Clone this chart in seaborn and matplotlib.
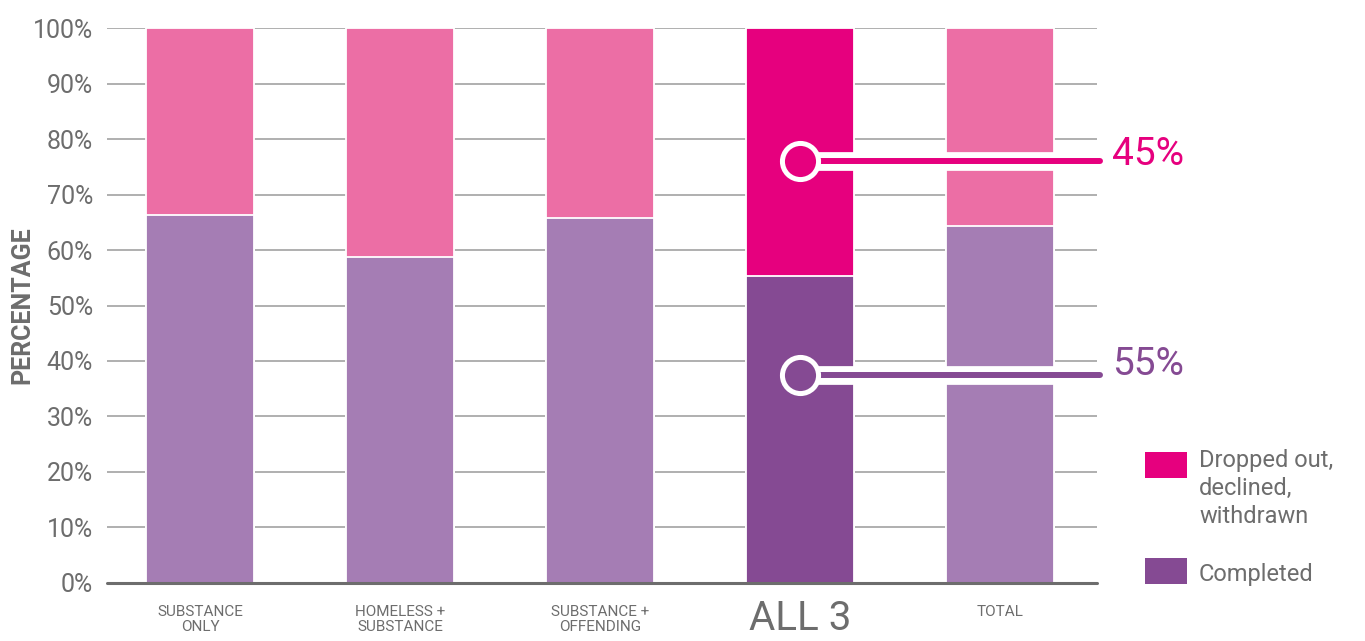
import pandas as pd
import matplotlib.pyplot as plt
import matplotlib.patheffects as pe
import matplotlib.transforms as mtransforms
from matplotlib.patches import Rectangle
import seaborn as sns

# Data
groups = ["SUBSTANCE\nONLY", "HOMELESS +\nSUBSTANCE", "SUBSTANCE +\nOFFENDING", "ALL 3", "TOTAL"]
completed = [66.3, 58.8, 65.8, 55.3, 64.4]
dropped = [100 - c for c in completed]
highlight_completed = 55
highlight_dropped = 45

# Colours
PINK = "#EC6EA5"
PURPLE = "#A57DB4"
PINK_DARK = "#E6007E"
PURPLE_DARK = "#854A93"
GREY_TEXT = "#6d6d6d"

sns.set_style("white")
plt.rcParams["font.family"] = ["Roboto", "DejaVu Sans"]

df = pd.DataFrame({"group": groups, "completed": completed, "dropped": dropped})
df["total"] = df["completed"] + df["dropped"]

top_colors = [PINK, PINK, PINK, PINK_DARK, PINK]
bottom_colors = [PURPLE, PURPLE, PURPLE, PURPLE_DARK, PURPLE]

fig = plt.figure(figsize=(13.65, 6.41), dpi=100)
ax = fig.add_axes([0.0784, 0.0905, 0.7253, 0.8658])

# --- stacked bars: full height first, completed part on top ---
sns.barplot(data=df, x="group", y="total", hue="group", palette=top_colors,
            saturation=1, width=0.54, edgecolor="white", linewidth=1.3, errorbar=None,
            legend=False, ax=ax, zorder=2)
sns.barplot(data=df, x="group", y="completed", hue="group", palette=bottom_colors,
            saturation=1, width=0.54, edgecolor="white", linewidth=1.3, errorbar=None,
            legend=False, ax=ax, zorder=2)

ax.set_xlim(-0.465, 4.485)
ax.set_ylim(0, 100)
ax.set_yticks(range(0, 101, 10))
ax.set_yticklabels([f"{v}%" for v in range(0, 101, 10)], fontsize=18, color=GREY_TEXT)
ax.yaxis.grid(True, color="#9a9a9a", linewidth=1.1)
ax.set_axisbelow(True)
ax.tick_params(axis="both", length=0)
ax.tick_params(axis="y", pad=10)
ax.tick_params(axis="x", pad=16)
sns.despine(ax=ax, left=True, bottom=True)
ax.axhline(0, color=GREY_TEXT, linewidth=2.2, zorder=5, clip_on=False)

# small tick labels; the highlighted group gets its own big label
idx = groups.index("ALL 3")
ax.set_xticks(range(len(groups)))
ax.set_xticklabels([g if i != idx else "" for i, g in enumerate(groups)],
                   fontsize=11, color=GREY_TEXT, linespacing=1.1)
big = mtransforms.blended_transform_factory(ax.transData, fig.transFigure)
ax.text(idx, 0.004, groups[idx], transform=big, fontsize=29, color=GREY_TEXT,
        ha="center", va="bottom", clip_on=False)
ax.set_xlabel("")
ax.set_ylabel("PERCENTAGE", fontsize=18, fontweight="bold", color=GREY_TEXT, labelpad=-1)

# --- callouts on the ALL 3 bar ---
callouts = [(76.0, PINK_DARK, f"{highlight_dropped}%", 77.2),
            (37.5, PURPLE_DARK, f"{highlight_completed}%", 39.4)]
for y, col, label, ty in callouts:
    ax.plot([idx, 4.5], [y, y], color=col, linewidth=4.3, solid_capstyle="round",
            clip_on=False, zorder=6,
            path_effects=[pe.Stroke(linewidth=13.5, foreground="white", capstyle="butt"), pe.Normal()])
    ax.plot([idx], [y], marker="o", markersize=26, markerfacecolor=col,
            markeredgecolor="white", markeredgewidth=3.6, clip_on=False, zorder=7)
    ax.text(4.56, ty, label, fontsize=28, color=col, va="center", ha="left", clip_on=False)

# --- legend drawn by hand ---
fig.add_artist(Rectangle((0.8388, 0.2543), 0.0308, 0.0406, transform=fig.transFigure,
                         facecolor=PINK_DARK, edgecolor="none"))
fig.add_artist(Rectangle((0.8388, 0.0889), 0.0308, 0.0406, transform=fig.transFigure,
                         facecolor=PURPLE_DARK, edgecolor="none"))
fig.text(0.8784, 0.2990, "Dropped out,\ndeclined,\nwithdrawn", fontsize=17, color=GREY_TEXT,
         va="top", ha="left", linespacing=1.27)
fig.text(0.8784, 0.1040, "Completed", fontsize=17, color=GREY_TEXT, va="center", ha="left")

fig.savefig("out.png", dpi=100)
